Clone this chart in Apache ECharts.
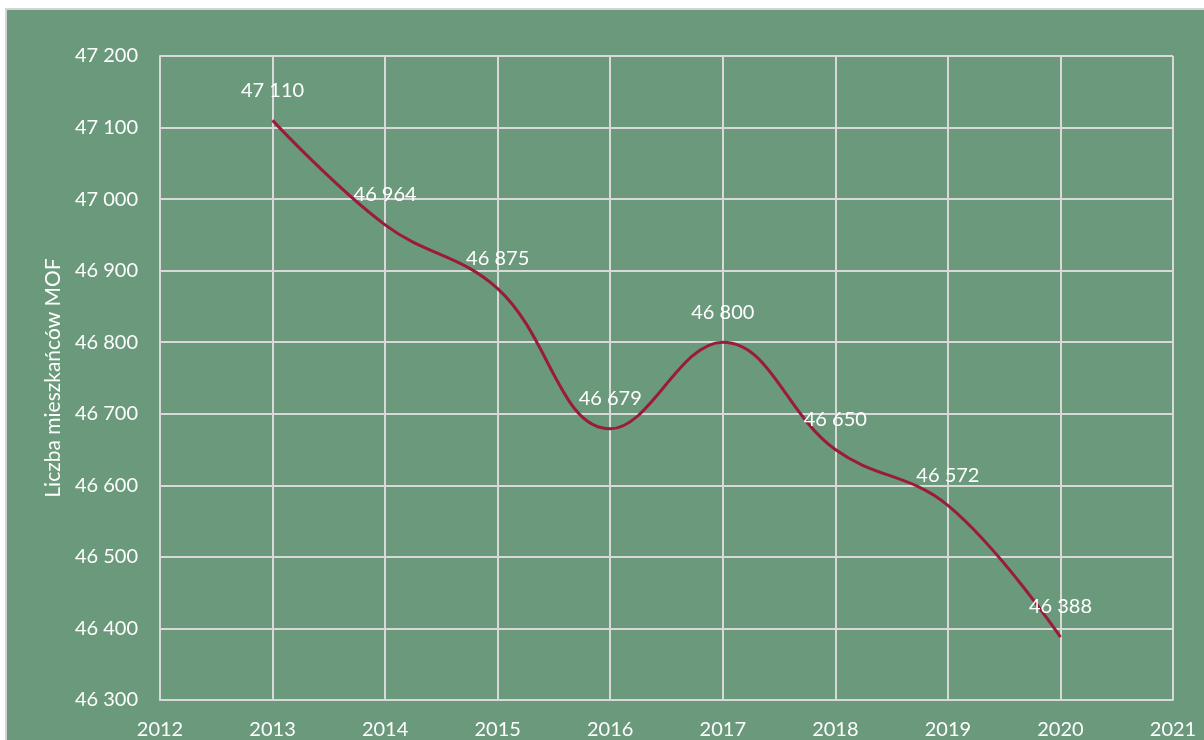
<!DOCTYPE html>
<html>
<head>
<meta charset="utf-8">
<script src="https://cdn.jsdelivr.net/npm/echarts@6/dist/echarts.min.js"></script>
<style>
  html, body { margin: 0; padding: 0; background: #fff; }
  #chart { width: 1204px; height: 740px; }
</style>
</head>
<body>
<div id="chart"></div>
<script>
// lata i liczba mieszkańców MOF
const years = [2013, 2014, 2015, 2016, 2017, 2018, 2019, 2020]
const residents = [47110, 46964, 46875, 46679, 46800, 46650, 46572, 46388]

const fmt = v => {
  const s = String(Math.round(v))
  return s.replace(/\B(?=(\d{3})+(?!\d))/g, ' ')
}

const chart = echarts.init(document.getElementById('chart'))
const gridColor = '#d9d9d9'
const font = 'Lato, "Open Sans", sans-serif'

chart.setOption({
  backgroundColor: '#fff',
  animation: false,
  graphic: [{
    type: 'rect',
    z: -10,
    shape: { x: 6, y: 9, width: 1220, height: 760 },
    style: { fill: '#6a997b', stroke: '#d4d4d4', lineWidth: 2 }
  }],
  grid: { left: 160, right: 31, top: 56, bottom: 40 },
  xAxis: {
    type: 'value',
    min: 2012,
    max: 2021,
    interval: 1,
    axisLine: { show: true, lineStyle: { color: gridColor, width: 2 } },
    axisTick: { show: false },
    splitLine: { show: true, lineStyle: { color: gridColor, width: 2 } },
    axisLabel: { color: '#fff', fontSize: 20, fontFamily: font, margin: 20, formatter: v => String(v) }
  },
  yAxis: {
    type: 'value',
    min: 46300,
    max: 47200,
    interval: 100,
    name: 'Liczba mieszkańców MOF',
    nameLocation: 'middle',
    nameGap: 89,
    nameRotate: 90,
    nameTextStyle: { color: '#fff', fontSize: 21, fontFamily: font },
    axisLine: { show: true, lineStyle: { color: gridColor, width: 2 } },
    axisTick: { show: false },
    splitLine: { show: true, lineStyle: { color: gridColor, width: 2 } },
    axisLabel: { color: '#fff', fontSize: 20, fontFamily: font, margin: 22, formatter: fmt }
  },
  series: [{
    type: 'line',
    data: years.map((y, i) => [y, residents[i]]),
    smooth: 0.4,
    symbol: 'circle',
    symbolSize: 0.1,
    showSymbol: true,
    itemStyle: { color: '#9b1b3a' },
    lineStyle: { color: '#9b1b3a', width: 3 },
    label: {
      show: true,
      position: 'top',
      distance: 20,
      color: '#fff',
      fontSize: 20,
      fontFamily: font,
      formatter: p => fmt(p.value[1])
    },
    labelLayout: { hideOverlap: false }
  }]
})
</script>
</body>
</html>
